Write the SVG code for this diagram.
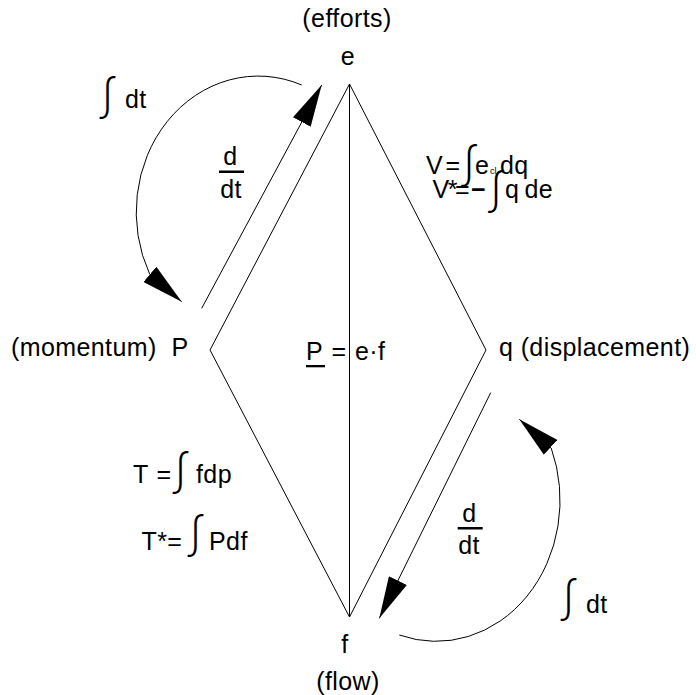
<svg xmlns="http://www.w3.org/2000/svg" width="696" height="695" viewBox="0 0 696 695">
<style>
  text { font-family: "Liberation Sans", Arial, sans-serif; font-size: 25px; letter-spacing: 0.4px; fill: #000; }
  .mid { text-anchor: middle; }
  .int { font-family: "Noto Sans CJK JP", "DejaVu Sans", sans-serif; font-weight: 300; font-size: 45px; letter-spacing: 0; text-anchor: middle; }
  .sub { font-size: 9px; letter-spacing: 0; }
  .bold { font-weight: bold; }
  .edge { stroke: #000; stroke-width: 1; fill: none; }
  .arr { stroke: #000; stroke-width: 1; fill: none; marker-end: url(#head); }
</style>
<defs>
  <marker id="head" markerUnits="userSpaceOnUse" viewBox="0 0 42 20" markerWidth="42" markerHeight="20" refX="42" refY="10" orient="auto">
    <path d="M0,0 L42,10 L0,20 Z" fill="#000"/>
  </marker>
</defs>
<rect width="696" height="695" fill="#fff"/>

<g id="connectors">
  <polygon class="edge" points="349.5,84 486,350 349.5,617 210,350"/>
  <line class="edge" x1="349.5" y1="84" x2="349.5" y2="617" stroke-width="1.3"/>
  <line class="arr" x1="201.7" y1="308.3" x2="321.7" y2="85"/>
  <line class="arr" x1="490.7" y1="392.7" x2="379.3" y2="618.3"/>
  <path class="arr" d="M301.7,85 A122 136 0 0 0 149.7,274.2 L181.7,301.7"/>
  <path class="arr" d="M399.3,635 A124 141 0 0 0 551.2,448 L519.3,419.3"/>
</g>

<g id="node-e">
  <text class="mid" x="347" y="27">(efforts)</text>
  <text class="mid" x="348" y="65">e</text>
</g>
<g id="node-P">
  <text x="11" y="356">(momentum)</text>
  <text x="171.5" y="356">P</text>
</g>
<g id="node-q">
  <text x="499" y="356">q (displacement)</text>
</g>
<g id="node-f">
  <text class="mid" x="345" y="653">f</text>
  <text class="mid" x="348" y="690">(flow)</text>
</g>
<g id="label-power">
  <text y="360"><tspan x="306">P</tspan><tspan x="331.5">=</tspan><tspan x="355">e·f</tspan></text>
  <rect x="306" y="365" width="19" height="2.3" fill="#000"/>
</g>
<g id="label-ddt-upper">
  <text class="mid" x="230.5" y="165">d</text>
  <rect x="219" y="170.5" width="25" height="2.5" fill="#000"/>
  <text class="mid" x="231" y="198">dt</text>
</g>
<g id="label-int-upper">
  <text y="108"><tspan class="int" x="107.5" y="115">∫</tspan><tspan x="125" y="108">dt</tspan></text>
</g>
<g id="label-V">
  <text y="174"><tspan x="426">V</tspan><tspan x="445.5">=</tspan><tspan class="int" x="469" y="183">∫</tspan><tspan x="475" y="174">e</tspan><tspan class="sub" x="490">cl</tspan><tspan x="500">dq</tspan></text>
</g>
<g id="label-Vstar">
  <text y="198"><tspan x="432.5" letter-spacing="-1.5">V*</tspan><tspan x="455">=</tspan><tspan class="bold" x="471">−</tspan><tspan class="int" x="496" y="209">∫</tspan><tspan x="505" y="198">q</tspan><tspan x="524.5">de</tspan></text>
</g>
<g id="label-T">
  <text y="483"><tspan x="133">T</tspan><tspan x="156.5">=</tspan><tspan class="int" x="180.5" y="490">∫</tspan><tspan x="196" y="483">fdp</tspan></text>
</g>
<g id="label-Tstar">
  <text y="550"><tspan x="141.5">T*=</tspan><tspan class="int" x="195.5" y="553">∫</tspan><tspan x="209" y="550">Pdf</tspan></text>
</g>
<g id="label-ddt-lower">
  <text class="mid" x="469.5" y="521.7">d</text>
  <rect x="457.7" y="527" width="25" height="2.5" fill="#000"/>
  <text class="mid" x="469" y="554">dt</text>
</g>
<g id="label-int-lower">
  <text y="613"><tspan class="int" x="568.5" y="617">∫</tspan><tspan x="586" y="613">dt</tspan></text>
</g>
</svg>
